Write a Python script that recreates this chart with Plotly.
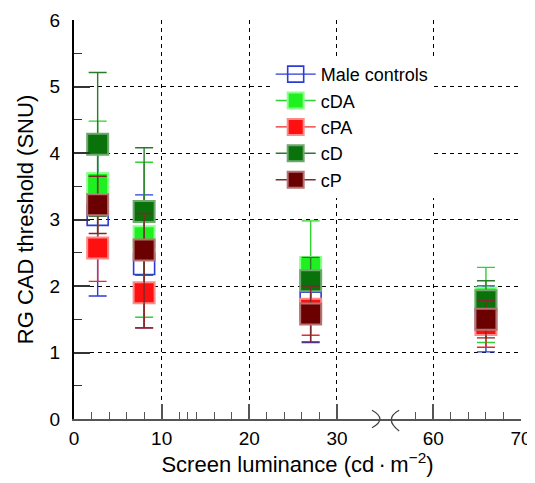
import plotly.graph_objects as go

# luminance of each test condition (cd/m2); 60-70 sits after an axis break
luminance = [2.7, 8, 27, 66]

series_names = ["Male controls", "cDA", "cPA", "cD", "cP"]

male_y = [3.07, 2.33, 1.75, 1.5]
male_up = [1.22, 1.04, 0.6, 0.5]
male_dn = [1.22, 0.96, 0.6, 0.49]

cda_y = [3.54, 2.74, 2.28, 1.82]
cda_up = [0.94, 1.12, 0.7, 0.46]
cda_dn = [0.94, 1.21, 0.7, 0.67]

cpa_y = [2.57, 1.9, 1.65, 1.42]
cpa_up = [0.5, 0.53, 0.39, 0.34]
cpa_dn = [0.5, 0.53, 0.39, 0.34]

cd_y = [4.13, 3.12, 2.08, 1.78]
cd_up = [1.08, 0.96, 0.35, 0.3]
cd_dn = [1.08, 0.96, 0.35, 0.3]

cp_y = [3.22, 2.54, 1.58, 1.5]
cp_up = [0.43, 0.55, 0.42, 0.28]
cp_dn = [0.43, 1.17, 0.42, 0.28]

x_tick_text = ["0", "10", "20", "30", "60", "70"]


# axis break: 30..60 squeezed, values >= 60 shifted down by 19
def to_axis(v):
    return v if v <= 30 else v - 19


x_axis = [to_axis(v) for v in luminance]
x_tick_vals = [to_axis(float(t)) for t in x_tick_text]
x_minor = [to_axis(v) for v in [2, 4, 6, 8, 12, 14, 16, 18, 22, 24, 26, 28, 32, 58, 62, 64, 66, 68]]

styles = {
    "Male controls": dict(symbol="square-open", fill="#2b3bd8", edge="#2b3bd8", err="#2b3bd8"),
    "cDA": dict(symbol="square", fill="#1ff01f", edge="#8cff8c", err="#2fd22f"),
    "cPA": dict(symbol="square", fill="#ff1010", edge="#ff8a8a", err="#e82a2a"),
    "cD": dict(symbol="square", fill="#0a720a", edge="#6fa86f", err="#2a7a2a"),
    "cP": dict(symbol="square", fill="#6a0000", edge="#b47474", err="#7c2a2a"),
}

data = {
    "Male controls": (male_y, male_up, male_dn),
    "cDA": (cda_y, cda_up, cda_dn),
    "cPA": (cpa_y, cpa_up, cpa_dn),
    "cD": (cd_y, cd_up, cd_dn),
    "cP": (cp_y, cp_up, cp_dn),
}

fig = go.Figure()

for name in series_names:
    y, up, dn = data[name]
    s = styles[name]
    lw = 1.6 if name == "Male controls" else 2
    fig.add_trace(go.Scatter(
        x=x_axis, y=y, mode="markers", name=name, showlegend=False,
        marker=dict(symbol=s["symbol"], size=21, color=s["fill"],
                    line=dict(color=s["edge"], width=lw)),
        error_y=dict(type="data", symmetric=False, array=up, arrayminus=dn,
                     color=s["err"], thickness=1.4, width=9),
    ))
    # legend-only entry so the legend shows a line through the box
    fig.add_trace(go.Scatter(
        x=[None], y=[None], mode="lines+markers", name=name,
        line=dict(color=s["err"], width=1.4),
        marker=dict(symbol=s["symbol"], size=20, color=s["fill"],
                    line=dict(color=s["edge"], width=lw)),
    ))

# axis break mark
fig.add_shape(type="path", xref="x", yref="paper", layer="above",
              path="M 34.0,0.022 Q 35.8,0 34.0,-0.022", line=dict(color="#444", width=1.3))
fig.add_shape(type="path", xref="x", yref="paper", layer="above",
              path="M 37.1,0.022 Q 35.3,0 37.1,-0.03", line=dict(color="#444", width=1.3))

# the page body adds an 8px margin, so the figure is drawn 8px smaller
fig.update_layout(
    width=527, height=475,
    margin=dict(l=66, r=14, t=12, b=64),
    paper_bgcolor="white", plot_bgcolor="white",
    font=dict(family="Liberation Sans, Arial, sans-serif", color="black", size=19),
    legend=dict(x=0.44, y=0.91, xanchor="left", yanchor="top", bgcolor="white",
                font=dict(size=18), tracegroupgap=0, itemwidth=40),
    xaxis=dict(
        range=[0, 51], tickmode="array", tickvals=x_tick_vals, ticktext=x_tick_text,
        showline=True, linecolor="#555", linewidth=2, mirror=False, automargin=False,
        ticks="inside", ticklen=15, tickwidth=1.5, tickcolor="#555",
        minor=dict(tickvals=x_minor, ticks="inside", ticklen=7, tickwidth=1.2, tickcolor="#555"),
        showgrid=True, gridcolor="black", gridwidth=1.4, griddash="4px,4px",
        zeroline=False, ticklabelstandoff=1, ticklabeloverflow="allow",
        title=dict(text="Screen luminance (cd\u2009\u00b7\u2009m<sup>\u22122</sup>)",
                   font=dict(size=22), standoff=4),
    ),
    yaxis=dict(
        range=[0, 6], tickmode="array", tickvals=[0, 1, 2, 3, 4, 5, 6],
        showline=True, linecolor="black", linewidth=2, automargin=False,
        ticks="inside", ticklen=16, tickwidth=1.5, tickcolor="#333",
        minor=dict(tickvals=[0.5, 1.5, 2.5, 3.5, 4.5, 5.5], ticks="inside", ticklen=8,
                   tickwidth=1.2, tickcolor="#333"),
        showgrid=True, gridcolor="black", gridwidth=1.4, griddash="4px,4px",
        zeroline=False, ticklabelstandoff=8,
        title=dict(text="RG CAD threshold (SNU)", font=dict(size=22), standoff=10),
    ),
)

fig.write_html("out.html")
